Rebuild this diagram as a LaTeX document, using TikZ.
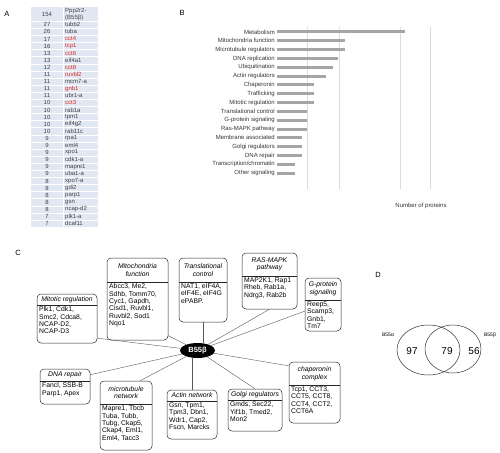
\documentclass[tikz,border=0pt]{standalone}
\usepackage{fontspec}
\setmainfont{Liberation Sans}
\usetikzlibrary{shapes.geometric,fit}
\definecolor{cellbg}{RGB}{226,232,243}
\definecolor{hitred}{RGB}{214,40,40}
\definecolor{barcol}{RGB}{165,165,165}
\definecolor{gridcol}{RGB}{220,220,220}
\begin{document}
\begin{tikzpicture}[x=1pt,y=-1pt,
  panel/.style={font=\fontsize{7.5}{8}\selectfont,inner sep=0pt},
  tabtxt/.style={font=\fontsize{6}{6.5}\selectfont,text=black!75,inner sep=0pt},
  barlab/.style={font=\fontsize{6}{7}\selectfont,text=black!80,anchor=east,inner sep=0pt},
  protbox/.style={draw=black!85,line width=0.5pt,rounded corners=4pt,inner sep=0pt},
  boxhead/.style={font=\fontsize{6.8}{7.6}\selectfont\itshape,align=center,inner sep=0pt},
  boxbody/.style={font=\fontsize{6.8}{7.4}\selectfont,align=left,anchor=north west,inner sep=0pt},
  hub/.style={ellipse,fill=black,text=white,font=\fontsize{7.5}{8}\selectfont\bfseries,
    minimum width=35pt,minimum height=15pt,inner sep=0pt},
  link/.style={draw=black!65,line width=0.4pt},
  venn/.style={draw=black!80,line width=0.5pt}]
\useasboundingbox (0,0) rectangle (500,452);

% Panel letters
\node[panel] (pA) at (7,14) {A};
\node[panel] (pB) at (182,13) {B};
\node[panel] (pC) at (18,253) {C};
\node[panel] (pD) at (378,275) {D};

% A: table of hits
\fill[cellbg] (31,7) rectangle (98,227);
\foreach \k in {2,...,30}
  \draw[white,line width=0.6pt] (31,{7+\k*7.1}) -- (98,{7+\k*7.1});
\draw[white,line width=0.6pt] (63,7) -- (63,227);
\node[tabtxt] (cnt0) at (47,14.1) {154};
\node[tabtxt,anchor=west] (gene0a) at (65,10.6) {Ppp2r2-};
\node[tabtxt,anchor=west] (gene0b) at (65,17.6) {(B55β)};
\foreach \n/\g/\c [count=\i] in {27/tubb2/black!75, 26/tuba/black!75, 17/cct4/hitred,
  16/tcp1/hitred, 13/cct6/hitred, 13/eif4a1/black!75, 12/cct8/hitred, 11/ruvbl2/hitred,
  11/mcm7-a/black!75, 11/gnb1/hitred, 11/ubr1-a/black!75, 10/cct3/hitred, 10/rab1a/black!75,
  10/tpm1/black!75, 10/eif4g2/black!75, 10/rab11c/black!75, 9/rpa1/black!75, 9/eml4/black!75,
  9/xpo1/black!75, 9/cdk1-a/black!75, 9/mapre1/black!75, 9/uba1-a/black!75, 8/xpo7-a/black!75,
  8/gdi2/black!75, 8/parp1/black!75, 8/gsn/black!75, 8/ncap-d2/black!75, 7/plk1-a/black!75,
  7/dcaf11/black!75} {
  \node[tabtxt] (cnt\i) at (47,{7+(\i+1.5)*7.1}) {\n};
  \node[tabtxt,anchor=west,text=\c] (gene\i) at (65,{7+(\i+1.5)*7.1}) {\g};
}

% B: bar chart
\foreach \gx in {307,339,400,430}
  \draw[gridcol,line width=0.4pt] (\gx,27) -- (\gx,189);
\foreach \lab/\len [count=\i from 0] in {Metabolism/405, Mitochondria function/345,
  Microtubule regulators/345, DNA replication/338, Ubiquitination/333, Actin regulators/326,
  Chaperonin/314, Trafficking/314, Mitotic regulation/314, Translational control/307,
  G-protein signaling/307, Ras-MAPK pathway/307, Membrane associated/302,
  Golgi regulators/302, DNA repair/302, {Transcription/chromatin}/295, Other signaling/295} {
  \fill[barcol] (277,{32+\i*8.82-1.5}) rectangle (\len,{32+\i*8.82+1.5});
  \node[barlab] (bar\i) at (275,{32+\i*8.82}) {\lab};
}
\node[barlab,anchor=center] (xlab) at (421,206) {Number of proteins};

% C: B55beta interaction network
\foreach \nm/\xa/\ya/\xb/\yb/\ys/\hd/\bd in {
  mitotic/37/294/97/343/305/{Mitotic regulation}/{Plk1, Cdk1,\\Smc2, Cdca8,\\NCAP-D2,\\NCAP-D3},
  mito/107/258/168/340/282/{Mitochondria\\function}/{Abcc3, Me2,\\Sdhb, Tomm70,\\Cyc1, Gapdh,\\Cisd1, Ruvbl1,\\Ruvbl2, Sod1\\Nqo1},
  trans/179/258/227/322/282/{Translational\\control}/{NAT1, eIF4A,\\eIF4E, eIF4G\\ePABP.},
  ras/242/253/297/309/276/{RAS-MAPK\\pathway}/{MAP2K1, Rap1\\Rheb, Rab1a,\\Ndrg3, Rab2b},
  gprot/305/278/341/331/300/{G-protein\\signaling}/{Reep5,\\Scamp3,\\Gnb1,\\Tm7},
  dnarep/40/369/90/404/381/{DNA repair}/{Fancl, SSB-B\\Parp1, Apex},
  micro/100/381/152/450/404/{microtubule\\network}/{Mapre1, Tbcb\\Tuba, Tubb,\\Tubg, Ckap5,\\Ckap4, Eml1,\\Eml4, Tacc3},
  actin/167/390/217/439/401/{Actin network}/{Gsn, Tpm1,\\Tpm3, Dbn1,\\Wdr1, Cap2,\\Fscn, Marcks},
  golgi/228/389/282/431/400/{Golgi regulators}/{Gmds, Sec22,\\Yif1b, Tmed2,\\Mon2},
  chap/289/362/340/423/385/{chaperonin\\complex}/{Tcp1, CCT3,\\CCT5, CCT8,\\CCT4, CCT2,\\CCT6A}} {
  \node[protbox,fit={(\xa,\ya) (\xb,\yb)}] (\nm) {};
  \draw[black!85,line width=0.5pt] (\xa,\ys) -- (\xb,\ys);
  \node[boxhead] (\nm-h) at ({(\xa+\xb)/2},{(\ya+\ys)/2}) {\hd};
  \node[boxbody] (\nm-b) at (\xa+2,\ys+1.5) {\bd};
}
\node[hub] (hub) at (197.5,350.5) {B55β};
\draw[link] (hub) -- (mitotic.-33);
\draw[link] (hub) -- (mito.-50);
\draw[link] (trans.south) -- (trans.south |- hub.north);
\draw[link] (hub) -- (ras.south);
\draw[link] (hub) -- (gprot.200);
\draw[link] (hub) -- (dnarep.25);
\draw[link] (hub) -- (micro.68);
\draw[link] (actin.north) -- (actin.north |- hub.south);
\draw[link] (hub) -- (golgi.north);
\draw[link] (hub) -- (chap.134);

% D: Venn diagram
\draw[venn] (428.5,350) ellipse [x radius=31.5pt,y radius=25pt];
\draw[venn] (453,349) ellipse [x radius=28pt,y radius=24pt];
\node[font=\fontsize{10}{11}\selectfont,inner sep=0pt] (n97) at (412,351) {97};
\node[font=\fontsize{10}{11}\selectfont,inner sep=0pt] (n79) at (447,351) {79};
\node[font=\fontsize{10}{11}\selectfont,inner sep=0pt] (n56) at (474,351) {56};
\node[font=\fontsize{5}{6}\selectfont,inner sep=0pt] (lalpha) at (388,335) {B55α};
\node[font=\fontsize{5}{6}\selectfont,inner sep=0pt] (lbeta) at (490,335) {B55β};
\end{tikzpicture}
\end{document}
